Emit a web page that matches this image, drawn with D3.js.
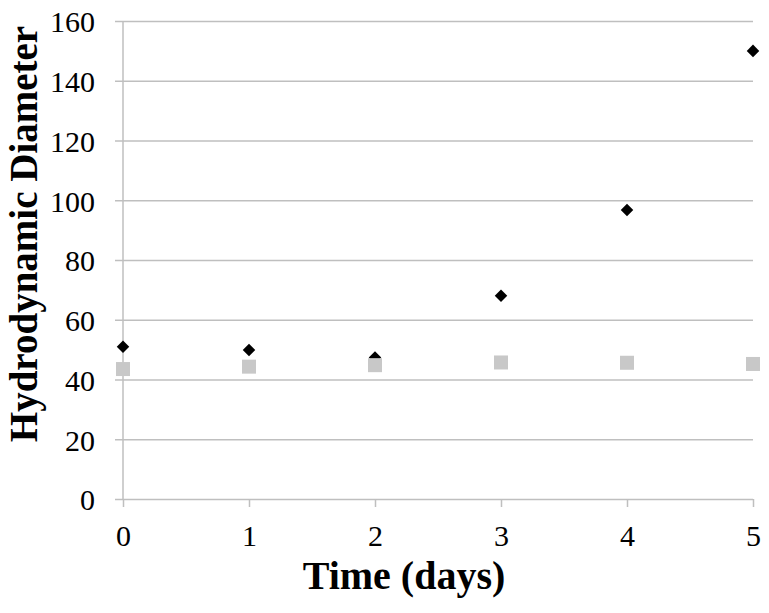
<!DOCTYPE html>
<html>
<head>
<meta charset="utf-8">
<script src="https://cdn.jsdelivr.net/npm/d3@7"></script>
<style>
  body { margin: 0; background: #fff; }
  svg { display: block; }
  .tick text { font-family: "Liberation Serif", "Times New Roman", serif; }
</style>
</head>
<body>
<div id="vis"></div>
<script>
// chart values
var days = [0, 1, 2, 3, 4, 5];
var seriesDark = [51.0, 49.9, 47.4, 68.0, 96.7, 150.0];
var seriesLight = [43.5, 44.3, 44.8, 45.7, 45.6, 45.2];
var yTicks = [0, 20, 40, 60, 80, 100, 120, 140, 160];
var xTitle = "Time (days)";
var yTitle = "Hydrodynamic Diameter";

var width = 769, height = 613;
var margin = {top: 21, right: 16, bottom: 114, left: 123};

var svg = d3.select("#vis").append("svg")
    .attr("width", width)
    .attr("height", height);

var x = d3.scaleLinear().domain([0, 5]).range([margin.left, width - margin.right]);
var y = d3.scaleLinear().domain([0, 160]).range([height - margin.bottom, margin.top]);

// horizontal gridlines + y labels
var yAxis = d3.axisLeft(y)
    .tickValues(yTicks)
    .tickSize(-(x(5) - x(0)))
    .tickPadding(0)
    .tickFormat(d3.format("d"));

var gy = svg.append("g")
    .attr("transform", "translate(" + x(0) + ",0)")
    .call(yAxis);
gy.select(".domain").remove();
gy.selectAll(".tick line")
    .attr("x1", -8)
    .attr("stroke", "#bfbfbf")
    .attr("stroke-width", 1.5);
gy.selectAll(".tick text")
    .attr("x", -28)
    .attr("dy", "0.36em")
    .attr("fill", "#000")
    .style("font-size", "30px");

// vertical axis line
svg.append("line")
    .attr("x1", x(0)).attr("x2", x(0))
    .attr("y1", y(160)).attr("y2", y(0))
    .attr("stroke", "#bfbfbf")
    .attr("stroke-width", 1.5);

// x axis ticks + labels
var xAxis = d3.axisBottom(x)
    .tickValues(days)
    .tickSize(8)
    .tickPadding(18)
    .tickFormat(d3.format("d"));

var gx = svg.append("g")
    .attr("transform", "translate(0," + y(0) + ")")
    .call(xAxis);
gx.select(".domain").remove();
gx.selectAll(".tick line")
    .attr("stroke", "#bfbfbf")
    .attr("stroke-width", 1.5);
gx.selectAll(".tick text")
    .attr("fill", "#000")
    .style("font-size", "30px");

// dark series: diamonds (drawn first, squares sit on top)
var diamond = d3.symbol().type(d3.symbolDiamond2).size(100);
svg.append("g").selectAll("path")
    .data(days)
    .enter().append("path")
    .attr("d", diamond)
    .attr("transform", function(d, i){ return "translate(" + x(d) + "," + y(seriesDark[i]) + ")"; })
    .attr("fill", "#000");

// light series: squares
svg.append("g").selectAll("rect")
    .data(days)
    .enter().append("rect")
    .attr("x", function(d){ return x(d) - 7; })
    .attr("y", function(d, i){ return y(seriesLight[i]) - 7; })
    .attr("width", 14)
    .attr("height", 14)
    .attr("fill", "#c8c8c8");

// axis titles
svg.append("text")
    .attr("x", 404)
    .attr("y", 589)
    .attr("text-anchor", "middle")
    .style("font-family", "'Liberation Serif', 'Times New Roman', serif")
    .style("font-weight", "bold")
    .style("font-size", "40px")
    .text(xTitle);

svg.append("text")
    .attr("transform", "translate(37," + 234 + ") rotate(-90)")
    .attr("text-anchor", "middle")
    .style("font-family", "'Liberation Serif', 'Times New Roman', serif")
    .style("font-weight", "bold")
    .style("font-size", "39px")
    .text(yTitle);
</script>
</body>
</html>
